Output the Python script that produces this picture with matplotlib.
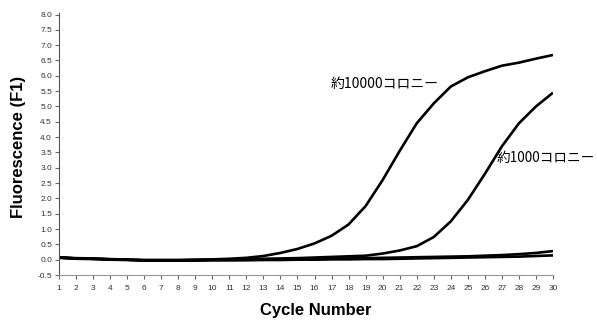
import matplotlib.pyplot as plt
import numpy as np

# cycle numbers
cycles = np.arange(1, 31)

# approx. 10000 colonies
c10000 = [0.08, 0.05, 0.04, 0.02, 0.0, -0.01, -0.01, -0.01, 0.0, 0.01,
          0.03, 0.06, 0.12, 0.22, 0.35, 0.53, 0.78, 1.15, 1.75, 2.6,
          3.55, 4.45, 5.1, 5.65, 5.95, 6.15, 6.33, 6.43, 6.56, 6.68]

# approx. 1000 colonies
c1000 = [0.07, 0.04, 0.03, 0.01, 0.0, -0.02, -0.02, -0.02, -0.01, 0.0,
         0.01, 0.02, 0.03, 0.04, 0.05, 0.07, 0.09, 0.11, 0.13, 0.2,
         0.3, 0.44, 0.74, 1.25, 1.95, 2.8, 3.7, 4.45, 5.0, 5.45]

# flat traces
neg_a = [0.07, 0.04, 0.03, 0.01, 0.0, -0.02, -0.02, -0.02, -0.02, -0.01,
         -0.01, 0.0, 0.0, 0.01, 0.01, 0.02, 0.03, 0.04, 0.05, 0.06,
         0.07, 0.08, 0.09, 0.1, 0.11, 0.13, 0.15, 0.18, 0.22, 0.28]
neg_b = [0.06, 0.03, 0.02, 0.0, -0.01, -0.03, -0.03, -0.03, -0.03, -0.02,
         -0.02, -0.02, -0.01, -0.01, 0.0, 0.0, 0.01, 0.01, 0.02, 0.02,
         0.03, 0.04, 0.05, 0.06, 0.07, 0.08, 0.09, 0.1, 0.12, 0.14]

y_ticks = np.arange(-0.5, 8.01, 0.5)

fig = plt.figure(figsize=(5.97, 3.2), dpi=100)
ax = fig.add_axes([59 / 597, 45 / 320, 494 / 597, 262 / 320])

for trace in (neg_b, neg_a, c1000, c10000):
    ax.plot(cycles, trace, color='black', lw=1.9, solid_capstyle='butt')

jp = ['Noto Sans CJK JP', 'DejaVu Sans']
ax.text(16.97, 5.72, '約10000コロニー', family=jp, fontsize=10,
        ha='left', va='center')
ax.text(26.7, 3.33, '約1000コロニー', family=jp, fontsize=9.8,
        ha='left', va='center', clip_on=False)

ax.set_xlim(1, 30)
ax.set_ylim(-0.5, 8.05)
ax.set_xticks(cycles)
ax.set_yticks(y_ticks)
ax.set_yticklabels(['%.1f' % v for v in y_ticks])

for s in ('top', 'right'):
    ax.spines[s].set_visible(False)
ax.spines['left'].set_color('#555555')
ax.spines['bottom'].set_color('#999999')
ax.tick_params(axis='both', direction='out', length=3, width=0.8,
               color='#666666', labelsize=6, labelcolor='#333333')
ax.tick_params(axis='x', pad=4)
ax.tick_params(axis='y', pad=2)
for lab in ax.get_xticklabels() + ax.get_yticklabels():
    lab.set_family('Liberation Sans')

ax.set_xlabel('Cycle Number', family='Liberation Sans', fontweight='bold',
              fontsize=12)
ax.set_ylabel('Fluorescence (F1)', family='Liberation Sans', fontweight='bold',
              fontsize=12)
ax.xaxis.set_label_coords(0.52, -0.105)
ax.yaxis.set_label_coords(-0.066, 0.49)

fig.savefig('out.png', dpi=100)
